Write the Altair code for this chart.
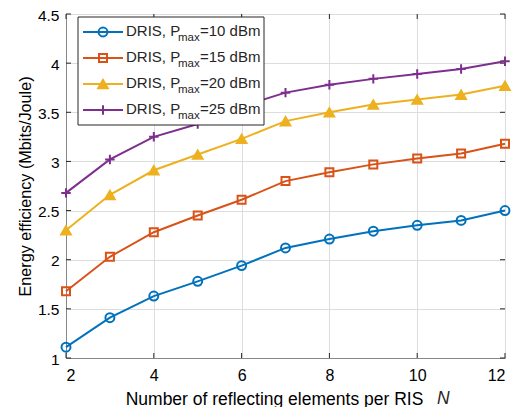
import altair as alt
import pandas as pd

# ---- data ----
N = [2, 3, 4, 5, 6, 7, 8, 9, 10, 11, 12]
ee_10 = [1.11, 1.41, 1.63, 1.78, 1.94, 2.12, 2.21, 2.29, 2.35, 2.40, 2.50]
ee_15 = [1.68, 2.03, 2.28, 2.45, 2.61, 2.80, 2.89, 2.97, 3.03, 3.08, 3.18]
ee_20 = [2.30, 2.66, 2.91, 3.07, 3.23, 3.41, 3.50, 3.58, 3.63, 3.68, 3.77]
ee_25 = [2.68, 3.02, 3.25, 3.38, 3.56, 3.70, 3.78, 3.84, 3.89, 3.94, 4.02]
pmax = ["10", "15", "20", "25"]
values = [ee_10, ee_15, ee_20, ee_25]
x_ticks = [2, 4, 6, 8, 10, 12]
y_ticks = [1, 1.5, 2, 2.5, 3, 3.5, 4, 4.5]

colors = ["#0072BD", "#D95319", "#EDB120", "#7E2F8E"]
shapes = ["circle", "square", "triangle-up", "M-1,0H1M0,-1V1"]
filled = [False, False, True, False]
sizes = [80, 64, 110, 90]

TOP = 6
W, H = 439, 350 - TOP
FONT = "Liberation Sans"
TXT = "#262626"

xs = alt.Scale(domain=[2, 12], nice=False, zero=False)
ys = alt.Scale(domain=[1, 4.5], nice=False, zero=False)

x_axis = alt.Axis(values=x_ticks, grid=True, tickSize=0, labelPadding=9,
                  title="Number of reflecting elements per RIS",
                  titleX=208, titleY=41, titleAlign="center", titleBaseline="middle",
                  titleFontSize=17.5, titleFontWeight="normal", labelFontSize=16)
y_axis = alt.Axis(values=y_ticks, grid=True, tickSize=0, labelPadding=7, format="~g",
                  labelOffset=1,
                  title="Energy efficiency (Mbits/Joule)",
                  titleX=-41, titleY=H / 2, titleAlign="center", titleBaseline="middle",
                  titleAngle=-90, titleFontSize=16.2, titleFontWeight="normal",
                  labelFontSize=15.5)


def X(field):
    return alt.X(field, scale=xs, axis=x_axis)


def Y(field):
    return alt.Y(field, scale=ys, axis=y_axis)


layers = []

# inward ticks on all four sides
xt = pd.DataFrame({"t": x_ticks})
yt = pd.DataFrame({"t": y_ticks})
for y0, y1 in [(H, H - 5), (0, 5)]:
    layers.append(alt.Chart(xt).mark_rule(color=TXT, strokeWidth=1).encode(
        x=X("t:Q"), y=alt.value(y0), y2=alt.value(y1)))
for x0, x1 in [(0, 5), (W, W - 5)]:
    layers.append(alt.Chart(yt).mark_rule(color=TXT, strokeWidth=1).encode(
        y=Y("t:Q"), x=alt.value(x0), x2=alt.value(x1)))

# series
for p, vals, c, s, f, sz in zip(pmax, values, colors, shapes, filled, sizes):
    df = pd.DataFrame({"N": N, "v": vals})
    base = alt.Chart(df).encode(x=X("N:Q"), y=Y("v:Q"))
    layers.append(base.mark_line(color=c, strokeWidth=2))
    if f:
        layers.append(base.mark_point(shape=s, size=sz, filled=True, fill=c,
                                      stroke=c, strokeWidth=1.5, opacity=1))
    else:
        layers.append(base.mark_point(shape=s, size=sz, filled=False,
                                      stroke=c, strokeWidth=2, opacity=1))

# legend box (page coords minus plot origin)
dy = 12 - (8 + TOP)
one = pd.DataFrame({"a": [0]})
layers.append(alt.Chart(one).mark_rect(fill="white", stroke=TXT, strokeWidth=1).encode(
    x=alt.value(12), x2=alt.value(198), y=alt.value(5 + dy), y2=alt.value(113 + dy)))

rows = [18.5 + dy, 44.5 + dy, 70.5 + dy, 96.5 + dy]
for p, c, s, f, sz, ry in zip(pmax, colors, shapes, filled, sizes, rows):
    layers.append(alt.Chart(one).mark_rule(color=c, strokeWidth=2).encode(
        x=alt.value(17), x2=alt.value(57), y=alt.value(ry + 1.5)))
    if f:
        pm = alt.Chart(one).mark_point(shape=s, size=sz, filled=True, fill=c,
                                       stroke=c, strokeWidth=1.5, opacity=1)
    else:
        pm = alt.Chart(one).mark_point(shape=s, size=sz, filled=False,
                                       stroke=c, strokeWidth=2, opacity=1)
    layers.append(pm.encode(x=alt.value(37), y=alt.value(ry + 1.5)))
    layers.append(alt.Chart(one).mark_text(text="DRIS, P", align="left", baseline="middle",
                                           font=FONT, fontSize=15, color=TXT).encode(
        x=alt.value(60), y=alt.value(ry)))
    layers.append(alt.Chart(one).mark_text(text="max", align="left", baseline="middle",
                                           font=FONT, fontSize=11.5, color=TXT).encode(
        x=alt.value(112), y=alt.value(ry + 7.5)))
    layers.append(alt.Chart(one).mark_text(text="=" + p + " dBm", align="left",
                                           baseline="middle", font=FONT, fontSize=15,
                                           color=TXT).encode(
        x=alt.value(134), y=alt.value(ry)))

# italic N of x title
layers.append(alt.Chart(one).mark_text(text="N", align="left", baseline="middle",
                                       font=FONT, fontSize=17.5, fontStyle="italic",
                                       color=TXT).encode(
    x=alt.value(371), y=alt.value(399 - 8 - TOP)))

chart = alt.layer(*layers).properties(
    width=W, height=H,
    autosize=alt.AutoSizeParams(type="none"),
    padding={"left": 58, "top": TOP, "right": 18, "bottom": 49},
).configure_view(stroke=TXT, strokeWidth=1).configure_axis(
    labelFont=FONT, titleFont=FONT, labelColor=TXT, titleColor=TXT,
    domainColor=TXT, domainWidth=1, gridColor="#e3e3e3", gridWidth=1,
).configure(background="white")

chart.save("out.html", embed_options={"renderer": "svg", "actions": False})
